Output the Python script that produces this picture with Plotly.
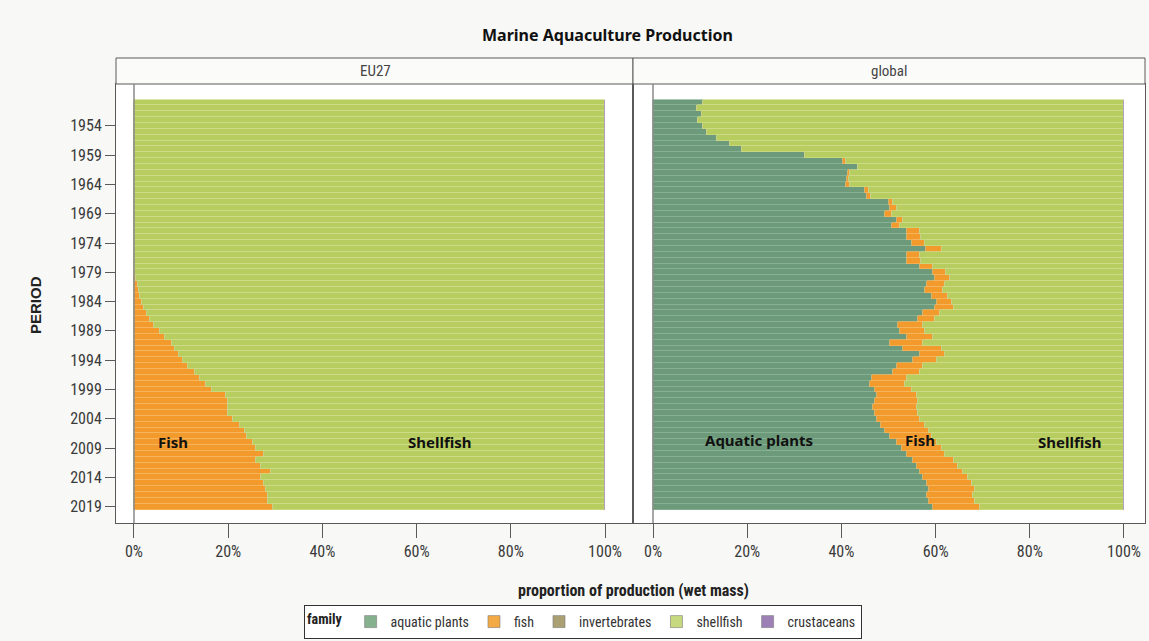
import plotly.graph_objects as go

W, H = 1149, 641

years = list(range(1950, 2020))

# EU27 shares (% of wet mass)
eu_plants = [0.0] * 70
eu_fish = [0.0] * 29 + [
    0.3, 0.5, 0.8, 1.0, 1.3, 1.6, 2.2, 2.8, 3.4, 4.3,          # 1979-1988
    5.5, 6.5, 8.0, 8.6, 9.5, 10.4, 11.5, 13.0, 14.0, 15.2,     # 1989-1998
    16.5, 19.5, 20.0, 20.0, 20.0, 21.0, 22.5, 23.5, 24.0, 25.3,  # 1999-2008
    26.0, 27.5, 26.0, 27.0, 29.0, 27.0, 27.5, 28.0, 28.5, 28.5,  # 2009-2018
    29.5,                                                        # 2019
]
eu_invert = [0.0] * 70
eu_crust = [0.0] * 70
eu_shell = [round(100 - a - b, 2) for a, b in zip(eu_plants, eu_fish)]

# global shares (% of wet mass)
gl_plants = [
    10.7, 9.3, 10.3, 9.6, 10.6, 11.4, 13.5, 16.3, 18.8, 32.3,   # 1950-1959
    40.4, 43.5, 41.4, 41.1, 41.0, 45.0, 45.4, 50.0, 50.3, 49.3,  # 1960-1969
    51.7, 50.7, 54.0, 54.0, 55.0, 58.0, 53.9, 54.0, 56.7, 59.5,  # 1970-1979
    59.9, 58.1, 57.7, 59.2, 60.2, 59.9, 57.4, 56.3, 52.1, 52.4,  # 1980-1989
    53.9, 50.3, 53.1, 56.7, 55.3, 51.7, 51.0, 46.4, 46.1, 47.1,  # 1990-1999
    47.5, 47.1, 46.8, 47.1, 47.5, 48.5, 49.3, 50.3, 51.7, 52.8,  # 2000-2009
    53.9, 55.3, 56.0, 56.7, 57.4, 58.1, 58.5, 58.1, 58.5, 59.5,  # 2010-2019
]
gl_fish = [
    0.0, 0.0, 0.0, 0.0, 0.0, 0.0, 0.0, 0.0, 0.0, 0.0,
    0.5, 0.0, 0.5, 0.6, 0.8, 0.8, 0.8, 1.0, 1.4, 1.4,
    1.3, 1.7, 2.7, 3.0, 2.7, 3.3, 2.8, 3.0, 2.8, 2.8,
    3.1, 3.9, 3.9, 3.5, 3.2, 3.9, 3.5, 3.6, 5.3, 5.3,
    5.6, 7.1, 8.2, 5.3, 4.9, 5.7, 5.7, 7.5, 7.4, 7.8,
    8.5, 9.2, 9.2, 9.2, 9.2, 9.2, 9.2, 8.9, 8.5, 8.5,
    8.1, 8.5, 8.8, 9.2, 9.5, 9.6, 9.9, 9.9, 9.9, 9.9,
]
gl_invert = [0.0] * 70
gl_crust = [0.0] * 70
gl_shell = [round(100 - a - b, 2) for a, b in zip(gl_plants, gl_fish)]

x_ticks = [0, 20, 40, 60, 80, 100]
x_tick_labels = ["0%", "20%", "40%", "60%", "80%", "100%"]
y_ticks = list(range(1954, 2020, 5))

families = ["aquatic plants", "fish", "invertebrates", "shellfish", "crustaceans"]
colors = {
    "aquatic plants": "#6c9a7a",
    "fish": "#f29b2c",
    "invertebrates": "#a89b6c",
    "shellfish": "#b7cd60",
    "crustaceans": "#9a7cb2",
}
stripe = {
    "aquatic plants": "#8ab395",
    "fish": "#f7b862",
    "invertebrates": "#bdb28a",
    "shellfish": "#cddd8a",
    "crustaceans": "#b49ac6",
}
legend_colors = {
    "aquatic plants": "#86b18f",
    "fish": "#f4aa44",
    "invertebrates": "#ab9f74",
    "shellfish": "#c6d97e",
    "crustaceans": "#9d80b6",
}

panels = [
    ("x", "y", {"aquatic plants": eu_plants, "fish": eu_fish, "invertebrates": eu_invert,
                "shellfish": eu_shell, "crustaceans": eu_crust}),
    ("x2", "y2", {"aquatic plants": gl_plants, "fish": gl_fish, "invertebrates": gl_invert,
                  "shellfish": gl_shell, "crustaceans": gl_crust}),
]

fig = go.Figure()
for i, (xa, ya, data) in enumerate(panels):
    for fam in families:
        fig.add_trace(go.Bar(
            y=years, x=data[fam], orientation="h", name=fam,
            xaxis=xa, yaxis=ya, legendgroup=fam, showlegend=False,
            marker=dict(color=colors[fam], line=dict(width=0.7, color=stripe[fam])),
            hovertemplate="%{y}: %{x:.1f}%<extra>" + fam + "</extra>",
        ))

# legend-only entries
for fam in families:
    fig.add_trace(go.Bar(
        y=[None], x=[None], orientation="h", name=fam, legendgroup=fam,
        marker=dict(color=legend_colors[fam], line=dict(color="#7a7a7a", width=0.6)),
        xaxis="x", yaxis="y", showlegend=True,
    ))

def px_x(p):
    return p / W

def px_y(p):
    return 1 - p / H

narrow = "Liberation Sans Narrow, Roboto Condensed, Liberation Sans, Arial"
tick_font = dict(family=narrow, size=16, color="#3a3a3a")
frame = "#5a5a5a"

yr_range = [2021.8, 1946.85]
common_x = dict(
    tickmode="array", tickvals=x_ticks, ticktext=x_tick_labels, ticks="outside", ticklen=14,
    tickcolor=frame, tickfont=tick_font, showgrid=False, zeroline=False,
    showline=True, mirror=True, linecolor=frame, linewidth=1, automargin=False,
    fixedrange=True,
)
fig.update_layout(
    width=W, height=H,
    margin=dict(l=0, r=0, t=0, b=0),
    paper_bgcolor="#f8f8f6",
    plot_bgcolor="white",
    barmode="stack",
    bargap=0.0,
    xaxis=dict(domain=[px_x(116), px_x(633)], range=[-3.82, 105.94], anchor="y", **common_x),
    xaxis2=dict(domain=[px_x(633), px_x(1145)], range=[-4.25, 104.46], anchor="y2", **common_x),
    yaxis=dict(domain=[px_y(523), px_y(84)], range=yr_range, anchor="x",
               tickmode="array", tickvals=y_ticks, ticks="outside", ticklen=10,
               tickcolor=frame, tickfont=tick_font, showgrid=False, zeroline=False,
               showline=True, mirror=True, linecolor=frame, linewidth=1,
               automargin=False, fixedrange=True),
    yaxis2=dict(domain=[px_y(523), px_y(84)], range=yr_range, anchor="x2",
                showticklabels=False, ticks="", showgrid=False, zeroline=False,
                showline=True, mirror=True, linecolor=frame, linewidth=1,
                automargin=False, fixedrange=True),
    legend=dict(
        orientation="h", x=px_x(583), xanchor="center", y=px_y(639), yanchor="bottom",
        bgcolor="white", bordercolor="#333333", borderwidth=1,
        title=dict(text="<b>family</b>", font=dict(family=narrow, size=14, color="#222")),
        font=dict(family=narrow, size=14, color="#333"),
        itemwidth=30, tracegroupgap=0, traceorder="normal",
    ),
    showlegend=True,
)

shapes = []
# strip headers
for x0, x1 in [(116, 633), (633, 1145)]:
    shapes.append(dict(type="rect", xref="paper", yref="paper",
                       x0=px_x(x0), x1=px_x(x1), y0=px_y(84), y1=px_y(58),
                       fillcolor="#fbfbfa", line=dict(color=frame, width=1), layer="above"))
# zero reference lines
for xr, yr in [("x", "y domain"), ("x2", "y2 domain")]:
    shapes.append(dict(type="line", xref=xr, yref=yr, x0=0, x1=0, y0=0, y1=1,
                       line=dict(color="#8a8a8a", width=1.5), layer="above"))
fig.update_layout(shapes=shapes)

label_font = dict(family="Noto Sans, Open Sans, DejaVu Sans", size=15, color="#111")

def paper_note(text, x, y, font, angle=0):
    return dict(text=text, xref="paper", yref="paper", x=px_x(x), y=px_y(y),
                xanchor="center", yanchor="middle", showarrow=False, font=font,
                textangle=angle)

annotations = [
    paper_note("<b>Marine Aquaculture Production</b>", 607, 35,
               dict(family="Noto Sans, Open Sans, DejaVu Sans", size=16, color="#111")),
    paper_note("EU27", 375, 71, dict(family=narrow, size=15, color="#444")),
    paper_note("global", 889, 71, dict(family=narrow, size=15, color="#444")),
    paper_note("<b>proportion of production (wet mass)</b>", 633, 590,
               dict(family=narrow, size=16, color="#222")),
    paper_note("<b>PERIOD</b>", 35, 305, dict(family="Liberation Sans, Arial", size=15, color="#222"), -90),
    dict(text="<b>Fish</b>", xref="x", yref="y", x=8.3, y=2008, showarrow=False, font=label_font),
    dict(text="<b>Shellfish</b>", xref="x", yref="y", x=64.8, y=2008, showarrow=False, font=label_font),
    dict(text="<b>Aquatic plants</b>", xref="x2", yref="y2", x=22.5, y=2007.7, showarrow=False, font=label_font),
    dict(text="<b>Fish</b>", xref="x2", yref="y2", x=56.7, y=2007.7, showarrow=False, font=label_font),
    dict(text="<b>Shellfish</b>", xref="x2", yref="y2", x=88.5, y=2008, showarrow=False, font=label_font),
]
fig.update_layout(annotations=annotations)

fig.write_html("out.html", config={"displayModeBar": False},
               post_script="document.body.style.margin='0px';")
